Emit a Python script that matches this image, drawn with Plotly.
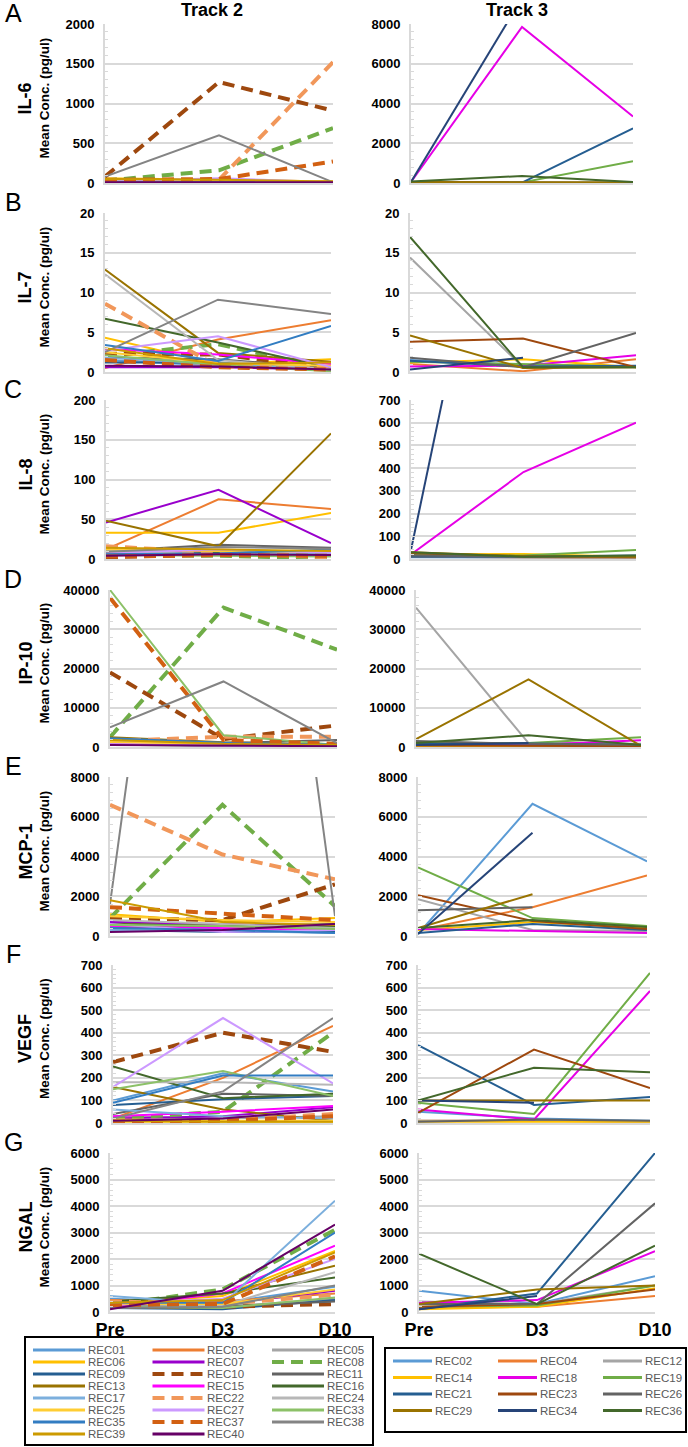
import plotly.graph_objects as go
from plotly.subplots import make_subplots

# Data

DAYS = ["Pre", "D3", "D10"]

TRACK2 = ["REC01", "REC03", "REC05", "REC06", "REC07", "REC08", "REC09", "REC10",
          "REC11", "REC13", "REC15", "REC16", "REC17", "REC22", "REC24", "REC25",
          "REC27", "REC33", "REC35", "REC37", "REC38", "REC39", "REC40"]
TRACK3 = ["REC02", "REC04", "REC12", "REC14", "REC18", "REC19",
          "REC21", "REC23", "REC26", "REC29", "REC34", "REC36"]

COLORS = {
    "REC01": "#5B9BD5", "REC03": "#ED7D31", "REC05": "#A5A5A5", "REC06": "#FFC000",
    "REC07": "#9900CC", "REC08": "#70AD47", "REC09": "#255E91", "REC10": "#9E480E",
    "REC11": "#636363", "REC13": "#997300", "REC15": "#FF00FF", "REC16": "#43682B",
    "REC17": "#7CAFDD", "REC22": "#F1975A", "REC24": "#B7B7B7", "REC25": "#FFCD33",
    "REC27": "#CC99FF", "REC33": "#8CC168", "REC35": "#327DC2", "REC37": "#D26012",
    "REC38": "#848484", "REC39": "#CC9A00", "REC40": "#660066",
    "REC02": "#5B9BD5", "REC04": "#ED7D31", "REC12": "#A5A5A5", "REC14": "#FFC000",
    "REC18": "#E600E6", "REC19": "#70AD47", "REC21": "#255E91", "REC23": "#9E480E",
    "REC26": "#636363", "REC29": "#997300", "REC34": "#264478", "REC36": "#43682B",
}
DASHED = ["REC08", "REC10", "REC22", "REC37"]

IL6_T2 = {
    "REC01": [20, 15, 10], "REC03": [30, 20, 15], "REC05": [15, 10, 5], "REC06": [60, 40, 20],
    "REC07": [10, 10, 5], "REC08": [30, 160, 690], "REC09": [10, 8, 5], "REC10": [80, 1270, 910],
    "REC11": [20, 15, 10], "REC13": [50, 30, 15], "REC15": [15, 10, 10], "REC16": [25, 20, 10],
    "REC17": [10, 8, 5], "REC22": [30, 40, 1520], "REC24": [20, 15, 10], "REC25": [40, 30, 20],
    "REC27": [20, 60, 10], "REC33": [15, 10, 5], "REC35": [10, 10, 5], "REC37": [40, 50, 270],
    "REC38": [80, 600, 10], "REC39": [50, 40, 20], "REC40": [10, 10, 10],
}
IL6_T3 = {
    "REC02": [10, 10, 10], "REC04": [20, 15, 10], "REC12": [30, 20, 10], "REC14": [15, 10, 10],
    "REC18": [50, 7850, 3350], "REC19": [10, 30, 1100], "REC21": [5, 20, 2750], "REC23": [40, 30, 20],
    "REC26": [30, 20, 10], "REC29": [50, 40, 30], "REC34": [50, 9300, None], "REC36": [80, 350, 50],
}

IL7_T2 = {
    "REC01": [1.5, 0.8, 0.2], "REC03": [0.5, 4.1, 6.5], "REC05": [2.0, 0.8, 0.4], "REC06": [4.3, 1.0, 1.6],
    "REC07": [0.6, 0.6, 0.3], "REC08": [2.0, 3.5, 0.3], "REC09": [1.2, 1.2, 0.4], "REC10": [2.3, 2.2, 0.5],
    "REC11": [1.8, 1.6, 0.5], "REC13": [12.9, 2.4, 1.3], "REC15": [2.9, 2.2, 1.0], "REC16": [6.7, 3.7, 0.5],
    "REC17": [1.8, 1.0, 0.3], "REC22": [8.6, 0.7, 0.5], "REC24": [12.3, 1.5, 0.3], "REC25": [2.5, 1.1, 0.8],
    "REC27": [2.7, 4.5, 0.6], "REC33": [2.1, 0.9, 0.1], "REC35": [3.4, 1.4, 5.8], "REC37": [1.5, 0.6, 0.3],
    "REC38": [2.5, 9.1, 7.3], "REC39": [3.0, 1.0, 1.2], "REC40": [0.8, 0.7, 0.3],
}
IL7_T3 = {
    "REC02": [1.5, 0.9, 0.7], "REC04": [1.0, 0.1, 1.6], "REC12": [14.4, 0.6, 0.6], "REC14": [1.2, 1.6, 0.6],
    "REC18": [0.7, 0.8, 2.1], "REC19": [1.3, 1.0, 0.7], "REC21": [1.4, 0.7, 0.8], "REC23": [3.8, 4.2, 0.6],
    "REC26": [1.8, 0.6, 4.9], "REC29": [4.6, 0.5, 0.6], "REC34": [0.3, 1.8, None], "REC36": [17.0, 0.6, 0.6],
}

IL8_T2 = {
    "REC01": [10, 5, 8], "REC03": [12, 75, 63], "REC05": [8, 6, 5], "REC06": [33, 33, 58],
    "REC07": [46, 87, 20], "REC08": [5, 4, 1], "REC09": [6, 7, 6], "REC10": [2, 6, 5],
    "REC11": [10, 18, 14], "REC13": [48, 16, 158], "REC15": [8, 10, 7], "REC16": [7, 8, 8],
    "REC17": [11, 5, 8], "REC22": [16, 8, 2], "REC24": [9, 6, 10], "REC25": [12, 10, 9],
    "REC27": [8, 12, 8], "REC33": [5, 4, 3], "REC35": [6, 7, 12], "REC37": [3, 5, 4],
    "REC38": [9, 15, 13], "REC39": [14, 12, 10], "REC40": [4, 6, 5],
}
IL8_T3 = {
    "REC02": [8, 5, 5], "REC04": [10, 6, 5], "REC12": [12, 8, 6], "REC14": [20, 22, 10],
    "REC18": [20, 383, 600], "REC19": [20, 15, 40], "REC21": [10, 10, 15], "REC23": [25, 12, 8],
    "REC26": [15, 10, 12], "REC29": [30, 12, 10], "REC34": [40, 2400, None], "REC36": [30, 10, 15],
}

IP10_T2 = {
    "REC01": [2000, 800, 300], "REC03": [1500, 600, 400], "REC05": [1200, 500, 300], "REC06": [1800, 900, 500],
    "REC07": [800, 300, 200], "REC08": [2500, 35500, 24800], "REC09": [1000, 800, 500], "REC10": [19000, 2000, 5500],
    "REC11": [2200, 1000, 1800], "REC13": [2500, 1200, 600], "REC15": [1000, 500, 300], "REC16": [600, 300, 200],
    "REC17": [1500, 700, 400], "REC22": [1500, 2600, 2600], "REC24": [1200, 800, 500], "REC25": [1300, 600, 400],
    "REC27": [700, 300, 200], "REC33": [40000, 3000, 500], "REC35": [2200, 1100, 600], "REC37": [38000, 1800, 800],
    "REC38": [5000, 16700, 1000], "REC39": [1800, 800, 500], "REC40": [500, 300, 200],
}
IP10_T3 = {
    "REC02": [500, 300, 200], "REC04": [300, 200, 300], "REC12": [35500, 1000, 800], "REC14": [200, 300, 200],
    "REC18": [500, 500, 1700], "REC19": [1000, 1000, 2500], "REC21": [800, 900, 600], "REC23": [400, 300, 200],
    "REC26": [1500, 800, 600], "REC29": [2000, 17200, 300], "REC34": [500, 1000, None], "REC36": [1000, 3000, 500],
}

MCP1_T2 = {
    "REC01": [500, 300, 200], "REC03": [400, 500, 500], "REC05": [700, 500, 400], "REC06": [1100, 700, 900],
    "REC07": [700, 600, 500], "REC08": [900, 6600, 1500], "REC09": [300, 200, 200], "REC10": [900, 800, 2600],
    "REC11": [400, 500, 600], "REC13": [600, 500, 400], "REC15": [500, 400, 300], "REC16": [600, 500, 500],
    "REC17": [300, 250, 150], "REC22": [6600, 4100, 2850], "REC24": [800, 600, 400], "REC25": [1000, 800, 700],
    "REC27": [600, 200, 300], "REC33": [550, 500, 350], "REC35": [400, 300, 150], "REC37": [1450, 1150, 800],
    "REC38": [1600, 43000, 1000], "REC39": [1800, 700, 550], "REC40": [200, 300, 600],
}
MCP1_T3 = {
    "REC02": [100, 6650, 3750], "REC04": [300, 1450, 3050], "REC12": [1850, 300, 250], "REC14": [300, 700, 400],
    "REC18": [350, 250, 150], "REC19": [3450, 900, 500], "REC21": [150, 600, 300], "REC23": [2050, 750, 350],
    "REC26": [1300, 1450, None], "REC29": [400, 2100, None], "REC34": [100, 5200, None], "REC36": [400, 800, 450],
}

VEGF_T2 = {
    "REC01": [100, 220, 140], "REC03": [20, 200, 430], "REC05": [30, 20, 30], "REC06": [5, 5, 5],
    "REC07": [20, 30, 70], "REC08": [20, 50, 400], "REC09": [80, 105, 120], "REC10": [270, 400, 315],
    "REC11": [40, 130, 120], "REC13": [160, 60, 10], "REC15": [30, 50, 75], "REC16": [250, 110, 130],
    "REC17": [60, 30, 20], "REC22": [10, 10, 40], "REC24": [180, 180, 170], "REC25": [15, 10, 10],
    "REC27": [160, 465, 175], "REC33": [150, 230, 120], "REC35": [90, 210, 210], "REC37": [5, 10, 30],
    "REC38": [20, 140, 465], "REC39": [10, 5, 5], "REC40": [10, 20, 60],
}
VEGF_T3 = {
    "REC02": [50, 20, 10], "REC04": [10, 10, 5], "REC12": [10, 10, 5], "REC14": [5, 5, 5],
    "REC18": [60, 15, 585], "REC19": [90, 40, 665], "REC21": [345, 80, 115], "REC23": [45, 325, 155],
    "REC26": [5, 15, 10], "REC29": [100, 100, 100], "REC34": [100, 90, None], "REC36": [100, 245, 225],
}

NGAL_T2 = {
    "REC01": [500, 350, 950], "REC03": [450, 400, 700], "REC05": [300, 200, 500], "REC06": [300, 600, 2300],
    "REC07": [200, 300, 800], "REC08": [250, 850, 3100], "REC09": [150, 100, 450], "REC10": [200, 200, 300],
    "REC11": [250, 200, 400], "REC13": [350, 700, 1750], "REC15": [200, 700, 2500], "REC16": [400, 700, 1300],
    "REC17": [600, 300, 4200], "REC22": [400, 300, 650], "REC24": [200, 250, 1500], "REC25": [300, 300, 850],
    "REC27": [300, 500, 2000], "REC33": [200, 150, 550], "REC35": [350, 350, 3000], "REC37": [250, 300, 2100],
    "REC38": [150, 200, 1000], "REC39": [350, 450, 2250], "REC40": [100, 800, 3300],
}
NGAL_T3 = {
    "REC02": [800, 300, 1350], "REC04": [150, 200, 600], "REC12": [400, 300, 1000], "REC14": [100, 200, 900],
    "REC18": [350, 450, 2300], "REC19": [200, 250, 1000], "REC21": [100, 700, 6000], "REC23": [200, 300, 850],
    "REC26": [300, 300, 4100], "REC29": [300, 850, 1000], "REC34": [100, 600, None], "REC36": [2200, 300, 2500],
}

# panel letter, cytokine, track 2 data, track 3 data, (max, step) left, (max, step) right
PANELS = [
    ("A", "IL-6", IL6_T2, IL6_T3, (2000, 500), (8000, 2000)),
    ("B", "IL-7", IL7_T2, IL7_T3, (20, 5), (20, 5)),
    ("C", "IL-8", IL8_T2, IL8_T3, (200, 50), (700, 100)),
    ("D", "IP-10", IP10_T2, IP10_T3, (40000, 10000), (40000, 10000)),
    ("E", "MCP-1", MCP1_T2, MCP1_T3, (8000, 2000), (8000, 2000)),
    ("F", "VEGF", VEGF_T2, VEGF_T3, (700, 100), (700, 100)),
    ("G", "NGAL", NGAL_T2, NGAL_T3, (6000, 1000), (6000, 1000)),
]

# Layout geometry in pixels: plot top, plot bottom, left x0, left x1, right x0, right x1
W, H = 688, 1447
BOXES = [
    (24, 183, 105, 333, 411, 633),
    (213, 372, 105, 331, 410, 636),
    (400, 559, 106, 331, 411, 636),
    (590, 747, 110, 337, 416, 641),
    (777, 936, 110, 335, 418, 647),
    (965, 1123, 113, 333, 418, 650),
    (1153, 1312, 110, 335, 419, 655),
]

FONT = "Liberation Sans, Arial, sans-serif"
GRID = "#d9d9d9"


def px(x):
    return x / W


def py(y):
    return 1 - y / H


def line_style(name, legend=False):
    if name in DASHED:
        return dict(color=COLORS[name], width=4, dash="12px,7px")
    return dict(color=COLORS[name], width=3 if legend else 2)


fig = make_subplots(rows=7, cols=2)

annotations = []
shapes = []

for r, (letter, label, d2, d3, lim2, lim3) in enumerate(PANELS):
    top, bot, lx0, lx1, rx0, rx1 = BOXES[r]
    for c, (data, names, lim, xs) in enumerate([(d2, TRACK2, lim2, (lx0, lx1)),
                                                 (d3, TRACK3, lim3, (rx0, rx1))]):
        for n in names:
            fig.add_trace(go.Scatter(x=DAYS, y=data[n], mode="lines", name=n,
                                     line=line_style(n), showlegend=False,
                                     connectgaps=False, hoverinfo="x+y+name"),
                          row=r + 1, col=c + 1)
        fig.update_xaxes(domain=[px(xs[0]), px(xs[1])], type="category",
                         categoryorder="array", categoryarray=DAYS, range=[0, 2],
                         showgrid=False, zeroline=False, showline=True,
                         linecolor=GRID, linewidth=2, ticks="",
                         showticklabels=(r == 6),
                         tickfont=dict(family=FONT, size=18, color="black", weight="bold"),
                         row=r + 1, col=c + 1)
        fig.update_yaxes(domain=[py(bot), py(top)], range=[0, lim[0]], dtick=lim[1],
                         tickformat="d",
                         showgrid=True, gridcolor=GRID, gridwidth=1.5, zeroline=False,
                         showline=True, linecolor=GRID, linewidth=2,
                         ticks="inside", ticklen=4, tickcolor=GRID,
                         minor=dict(ticks="inside", ticklen=3, tickcolor=GRID,
                                    dtick=lim[1] / 5, showgrid=False),
                         ticklabelstandoff=6,
                         tickfont=dict(family=FONT, size=13, color="black", weight="bold"),
                         row=r + 1, col=c + 1)

    mid = (top + bot) / 2 - 5
    annotations.append(dict(x=px(13), y=py(top - 11), text=letter, showarrow=False,
                            xref="paper", yref="paper", xanchor="center", yanchor="middle",
                            font=dict(family=FONT, size=25, color="black")))
    annotations.append(dict(x=px(25), y=py(mid), text="<b>%s</b>" % label, showarrow=False,
                            xref="paper", yref="paper", textangle=-90,
                            xanchor="center", yanchor="middle",
                            font=dict(family=FONT, size=18, color="black")))
    annotations.append(dict(x=px(44), y=py(mid), text="<b>Mean Conc. (pg/ul)</b>", showarrow=False,
                            xref="paper", yref="paper", textangle=-90,
                            xanchor="center", yanchor="middle",
                            font=dict(family=FONT, size=13.5, color="black")))

# Column titles
for text, x in [("Track 2", 212), ("Track 3", 517)]:
    annotations.append(dict(x=px(x), y=py(10), text="<b>%s</b>" % text, showarrow=False,
                            xref="paper", yref="paper", xanchor="center", yanchor="middle",
                            font=dict(family=FONT, size=18, color="black")))

# Legend boxes (drawn from the series lists)
LEG_FONT = dict(family=FONT, size=11.5, color="#595959")
legends = [
    (TRACK2, 33, 119.5, 1350, 12.0, 52, (25, 1337, 373, 1445)),
    (TRACK3, 393, 105, 1361, 16.5, 39, (385, 1348, 686, 1432)),
]
for names, x0, xstep, y0, ystep, seg, box in legends:
    shapes.append(dict(type="rect", xref="paper", yref="paper",
                       x0=px(box[0]), y0=py(box[1]), x1=px(box[2]), y1=py(box[3]),
                       line=dict(color="black", width=2)))
    for i, n in enumerate(names):
        cx = x0 + (i % 3) * xstep
        cy = y0 + (i // 3) * ystep
        shapes.append(dict(type="line", xref="paper", yref="paper",
                           x0=px(cx), x1=px(cx + seg), y0=py(cy), y1=py(cy),
                           line=line_style(n, legend=True)))
        annotations.append(dict(x=px(cx + seg + 2), y=py(cy), text=n, showarrow=False,
                                xref="paper", yref="paper", xanchor="left", yanchor="middle",
                                borderpad=0, font=LEG_FONT))

fig.update_layout(width=W, height=H, showlegend=False,
                  paper_bgcolor="white", plot_bgcolor="white",
                  margin=dict(l=0, r=0, t=0, b=0, pad=0, autoexpand=False),
                  font=dict(family=FONT, color="black"),
                  annotations=annotations, shapes=shapes)

fig.write_html("out.html", config={"displayModeBar": False},
               post_script="document.body.style.margin='0';")
